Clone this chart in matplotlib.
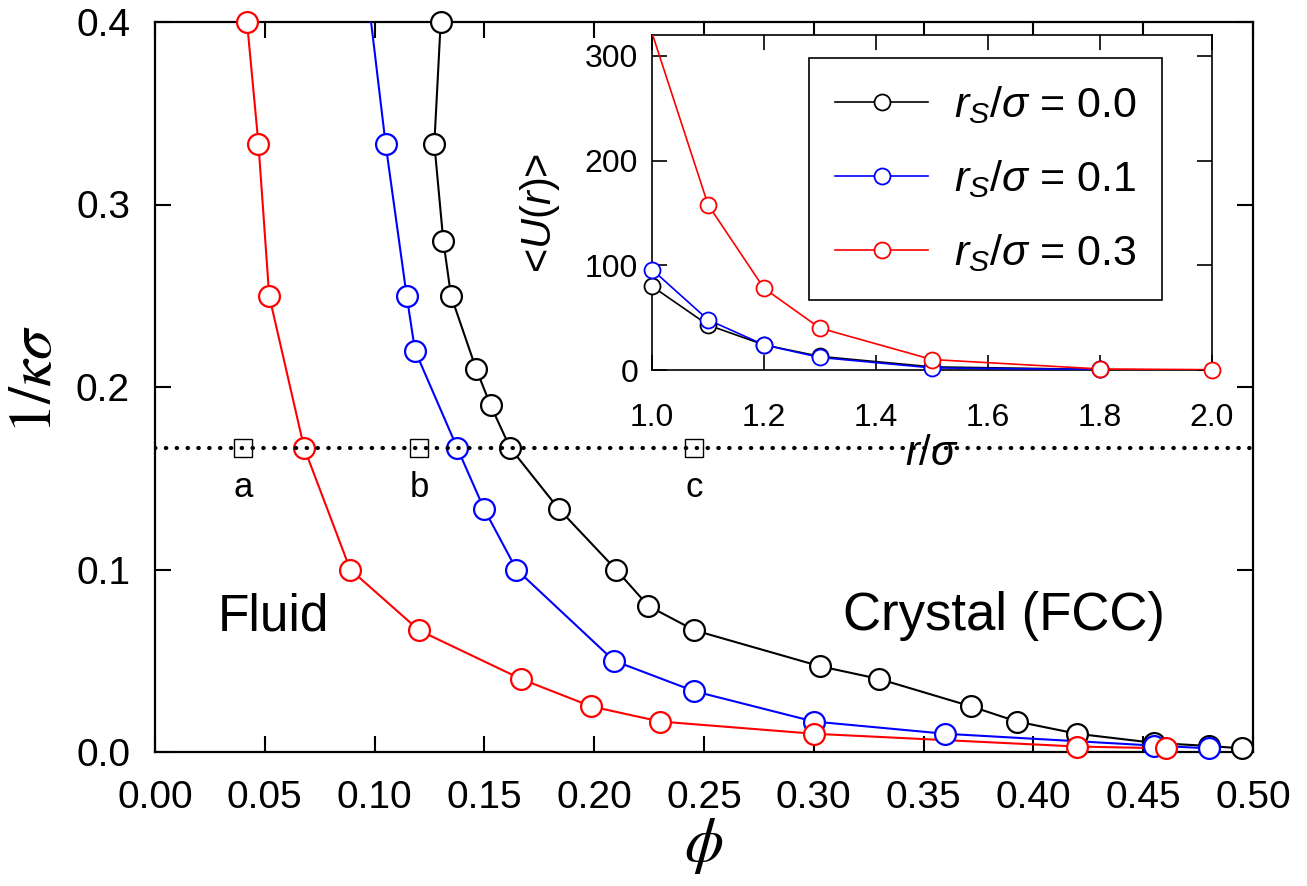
import numpy as np
import matplotlib
matplotlib.use("Agg")
import matplotlib.pyplot as plt

plt.rcParams['font.family'] = ['Liberation Sans', 'DejaVu Sans']
plt.rcParams['mathtext.fontset'] = 'custom'
plt.rcParams['mathtext.rm'] = 'Liberation Sans'
plt.rcParams['mathtext.it'] = 'Liberation Sans:italic'
plt.rcParams['mathtext.bf'] = 'Liberation Sans:bold'

# main panel: 1/(kappa sigma) vs packing fraction phi
phi_00 = [0.1301, 0.1272, 0.1313, 0.1348, 0.1462, 0.1528, 0.1617, 0.1838, 0.2099,
          0.2247, 0.2456, 0.3028, 0.3298, 0.3716, 0.3925, 0.4199, 0.455, 0.480, 0.4949]
ik_00 = [0.4, 0.3333, 0.28, 0.25, 0.21, 0.19, 0.1667, 0.1333, 0.1,
         0.08, 0.0667, 0.047, 0.04, 0.025, 0.0167, 0.01, 0.005, 0.0033, 0.002]

phi_01 = [0.0885, 0.105, 0.1146, 0.1184, 0.1376, 0.1498, 0.1646, 0.209, 0.2456,
          0.300, 0.3598, 0.455, 0.480]
ik_01 = [0.5, 0.3333, 0.25, 0.22, 0.1667, 0.1333, 0.1, 0.05, 0.0333,
         0.0167, 0.01, 0.0035, 0.002]

phi_03 = [0.0419, 0.0471, 0.052, 0.0679, 0.0889, 0.1202, 0.1667, 0.1986, 0.230,
          0.300, 0.4199, 0.4605]
ik_03 = [0.4, 0.3333, 0.25, 0.1667, 0.1, 0.0667, 0.04, 0.025, 0.0167,
         0.01, 0.003, 0.002]

state_phi = [0.0401, 0.1202, 0.2456]
state_lab = ['a', 'b', 'c']
state_ik = 1.0 / 6.0

# inset: <U(r)> vs r/sigma
r_in = [1.0, 1.1, 1.2, 1.3, 1.5, 1.8, 2.0]
U_00 = [80, 43, 24, 13, 3, 0.5]
U_01 = [96, 48, 24, 12, 2, 0.5]
U_03 = [322, 158, 78, 40, 10, 1, 0.3]

labels = [r'$r_S/\sigma$ = 0.0', r'$r_S/\sigma$ = 0.1', r'$r_S/\sigma$ = 0.3']
colors = ['black', '#0000ff', '#ff0000']

W, H = 1307, 886
fig = plt.figure(figsize=(W / 100, H / 100), dpi=100)
ax = fig.add_axes([155 / W, 1 - 752 / H, 1098 / W, 730 / H])

ylim = (0, 0.4)
for x, y, c in zip([phi_00, phi_01, phi_03], [ik_00, ik_01, ik_03], colors):
    x = np.array(x)
    y = np.array(y)
    ax.plot(x, y, '-', color=c, lw=1.5, zorder=3)
    m = y <= ylim[1] + 1e-9
    ax.plot(x[m], y[m], 'o', ms=15, mfc='white', mec=c, mew=1.6,
            clip_on=False, zorder=4)

ax.axhline(state_ik, color='black', lw=3.0, ls=(0, (0.1, 2.5)),
           dash_capstyle='round', zorder=5)
ax.plot(state_phi, [state_ik] * 3, 's', ms=13, mfc='none', mec='black',
        mew=1.0, zorder=6)
for p, t in zip(state_phi, state_lab):
    ax.text(p, 0.1397, t, fontsize=25, ha='center', va='baseline')

ax.text(0.0287, 0.0668, 'Fluid', fontsize=37, ha='left', va='baseline')
ax.text(0.3133, 0.0668, 'Crystal (FCC)', fontsize=38, ha='left', va='baseline')

ax.set_xlim(0, 0.5)
ax.set_ylim(*ylim)
ax.set_xticks(np.arange(0, 0.501, 0.05))
ax.set_xticklabels(['%.2f' % v for v in np.arange(0, 0.501, 0.05)])
ax.set_yticks(np.arange(0, 0.401, 0.1))
ax.set_yticklabels(['%.1f' % v for v in np.arange(0, 0.401, 0.1)])
ax.tick_params(direction='in', length=11.5, width=1.5, labelsize=28,
               top=True, right=True)
ax.tick_params(axis='x', pad=20)
ax.tick_params(axis='y', pad=18)
for s in ax.spines.values():
    s.set_linewidth(1.6)

ax.set_xlabel(r'$\phi$', fontsize=45, math_fontfamily='stix')
ax.xaxis.set_label_coords(0.5, -0.088)
ax.set_ylabel(r'$1/\kappa\sigma$', fontsize=44, math_fontfamily='stix')
ax.yaxis.set_label_coords(-0.083, 0.51)

# inset
ins = fig.add_axes([652 / W, 1 - 370 / H, 560 / W, 335 / H])
for U, c, lab in zip([U_00, U_01, U_03], colors, labels):
    x = np.array(r_in[:len(U)])
    y = np.array(U, dtype=float)
    ins.plot(x, y, '-', color=c, lw=1.2, zorder=3)
    m = y <= 320
    ins.plot(x[m], y[m], 'o', ms=11.5, mfc='white', mec=c, mew=1.3,
             clip_on=False, zorder=4)
    ins.plot([], [], '-o', color=c, lw=1.2, ms=11.5, mfc='white', mec=c,
             mew=1.3, label=lab)

ins.set_xlim(1.0, 2.0)
ins.set_ylim(0, 320)
ins.set_xticks(np.arange(1.0, 2.01, 0.2))
ins.set_xticklabels(['%.1f' % v for v in np.arange(1.0, 2.01, 0.2)])
ins.set_yticks([0, 100, 200, 300])
ins.tick_params(direction='in', length=11, width=1.2, labelsize=23,
                top=True, right=True)
ins.tick_params(axis='x', pad=24)
ins.tick_params(axis='y', pad=10)
for s in ins.spines.values():
    s.set_linewidth(1.2)
ins.set_xlabel(r'$r/\sigma$', fontsize=30)
ins.xaxis.set_label_coords(0.5, -0.19)
ins.set_ylabel(r'<$U(r)$>', fontsize=30)
ins.yaxis.set_label_coords(-0.16, 0.47)

leg = ins.legend(loc='upper right', bbox_to_anchor=(0.9107, 0.931),
                 borderaxespad=0, fontsize=31, frameon=True, fancybox=False,
                 edgecolor='black', framealpha=1, handlelength=2.15,
                 handletextpad=0.6, labelspacing=0.75, borderpad=0.6)
leg.get_frame().set_linewidth(1.2)

fig.savefig('out.png', dpi=100)
